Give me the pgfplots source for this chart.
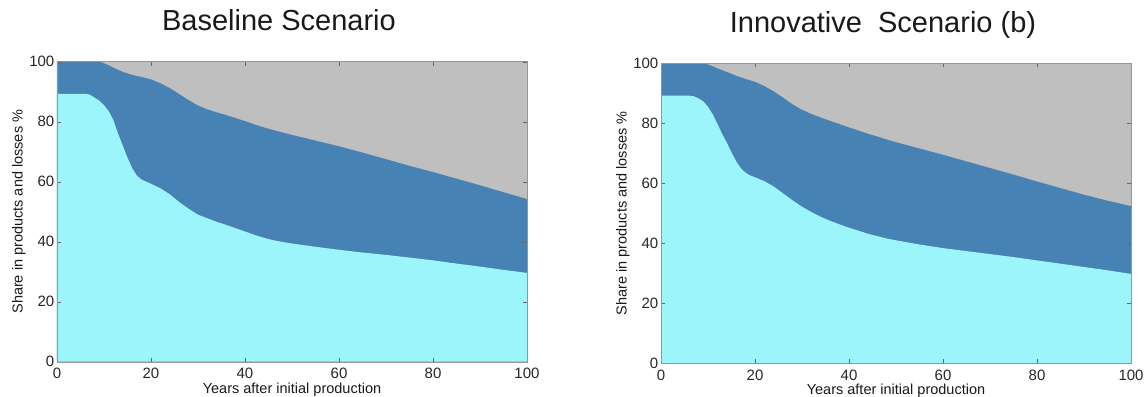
\documentclass[border=0pt]{standalone}
\usepackage{fontspec}
\setmainfont{Liberation Sans}
\usepackage{pgfplots}
\pgfplotsset{compat=1.18}
\definecolor{cyanfill}{RGB}{157,245,252}
\definecolor{bluefill}{RGB}{70,130,180}
\definecolor{greyfill}{RGB}{191,191,191}
\definecolor{axgrey}{RGB}{150,150,150}
\pgfplotsset{myax/.style={
  width=470pt,height=300pt,scale only axis,
  xmin=0,xmax=100,ymin=0,ymax=100,
  xtick={0,20,...,100}, ytick={0,20,...,100},
  tick align=inside, major tick length=4pt,
  axis line style={axgrey},
  tick style={black!60},
  ticklabel style={font=\fontsize{15}{18}\selectfont, text=black!85, inner sep=0pt},
  yticklabel style={xshift=-2.5pt},
  xticklabel style={yshift=-6.5pt},
  /pgf/number format/assume math mode=true,
  axis on top,
  title style={at={(axis description cs:0.4723,1.0833)}, anchor=base, font=\fontsize{29}{34}\selectfont, text=black!90},
  xlabel style={at={(axis description cs:0.5,-0.1053)}, anchor=base, font=\fontsize{14.5}{17}\selectfont, text=black!90},
  ylabel style={at={(axis description cs:-0.0809,0.5)}, anchor=center, font=\fontsize{14.5}{17}\selectfont, text=black!90},
  xlabel={Years after initial production},
  ylabel={Share in products and losses \%},
}}
\begin{document}
\begin{tikzpicture}
\begin{axis}[myax, title={Baseline Scenario}]
\addplot[fill=greyfill, draw=none] coordinates {(0,100) (100,100)} \closedcycle;
\addplot[fill=bluefill, draw=none] coordinates {
(0,100) (9,100) (10,99.5) (11,98.8) (12,98) (13,97.3) (14,96.6) (15,96.1) (16,95.6) (18,94.9) (20,94.1) (22,92.8) (24,91.2) (26,89.2) (28,87.2) (30,85.4) (32,84.1) (34,83.1) (36,82.2) (38,81.2) (40,80.2) (42,79.1) (44,78.1) (46,77.2) (48,76.4) (50,75.6) (55,73.7) (60,71.8) (65,69.7) (70,67.5) (75,65.3) (80,63.2) (85,61) (90,58.8) (95,56.5) (100,54.2)
} \closedcycle;
\addplot[fill=cyanfill, draw=none] coordinates {
(0,89.3) (6,89.3) (7,89.0) (8,88.0) (9,87.0) (10,85.5) (11,83.5) (12,80.5) (13,76) (14,72) (15,68) (16,64.5) (17,62) (18,60.7) (19,60) (20,59.3) (22,57.8) (24,55.8) (26,53.2) (28,51) (30,49) (32,47.8) (34,46.6) (36,45.6) (38,44.5) (40,43.4) (42,42.3) (44,41.3) (46,40.5) (48,39.9) (50,39.4) (55,38.3) (60,37.3) (65,36.4) (70,35.6) (75,34.7) (80,33.8) (85,32.7) (90,31.7) (95,30.6) (100,29.6)
} \closedcycle;
\end{axis}
\begin{axis}[myax, at={(604pt,-1.6pt)}, title={Innovative\ \ Scenario (b)}]
\addplot[fill=greyfill, draw=none] coordinates {(0,100) (100,100)} \closedcycle;
\addplot[fill=bluefill, draw=none] coordinates {
(0,100) (9,100) (10,99.6) (11,99) (12,98.3) (13,97.7) (14,97.1) (15,96.5) (16,95.8) (18,94.8) (20,93.8) (22,92.4) (24,90.6) (26,88.5) (28,86.3) (30,84.5) (32,83.1) (34,81.9) (36,80.8) (38,79.7) (40,78.6) (42,77.6) (44,76.5) (46,75.6) (48,74.6) (50,73.7) (55,71.6) (60,69.5) (65,67.3) (70,65.1) (75,62.9) (80,60.6) (85,58.4) (90,56.2) (95,54.2) (100,52.4)
} \closedcycle;
\addplot[fill=cyanfill, draw=none] coordinates {
(0,89.2) (6,89.2) (7,89) (8,88.3) (9,87.3) (10,85.5) (11,83) (12,79.8) (13,76.5) (14,73.5) (15,70.3) (16,67.3) (17,65) (18,63.5) (19,62.6) (20,62) (22,60.7) (24,58.9) (26,56.6) (28,54.3) (30,52.2) (32,50.4) (34,48.8) (36,47.5) (38,46.3) (40,45.2) (42,44.2) (44,43.2) (46,42.4) (48,41.6) (50,41) (55,39.6) (60,38.4) (65,37.4) (70,36.4) (75,35.4) (80,34.3) (85,33.2) (90,32.1) (95,31.0) (100,29.8)
} \closedcycle;
\end{axis}
\pgfresetboundingbox
\path (-57pt,-34.3pt) rectangle (1088pt,361.7pt);
\end{tikzpicture}
\end{document}
